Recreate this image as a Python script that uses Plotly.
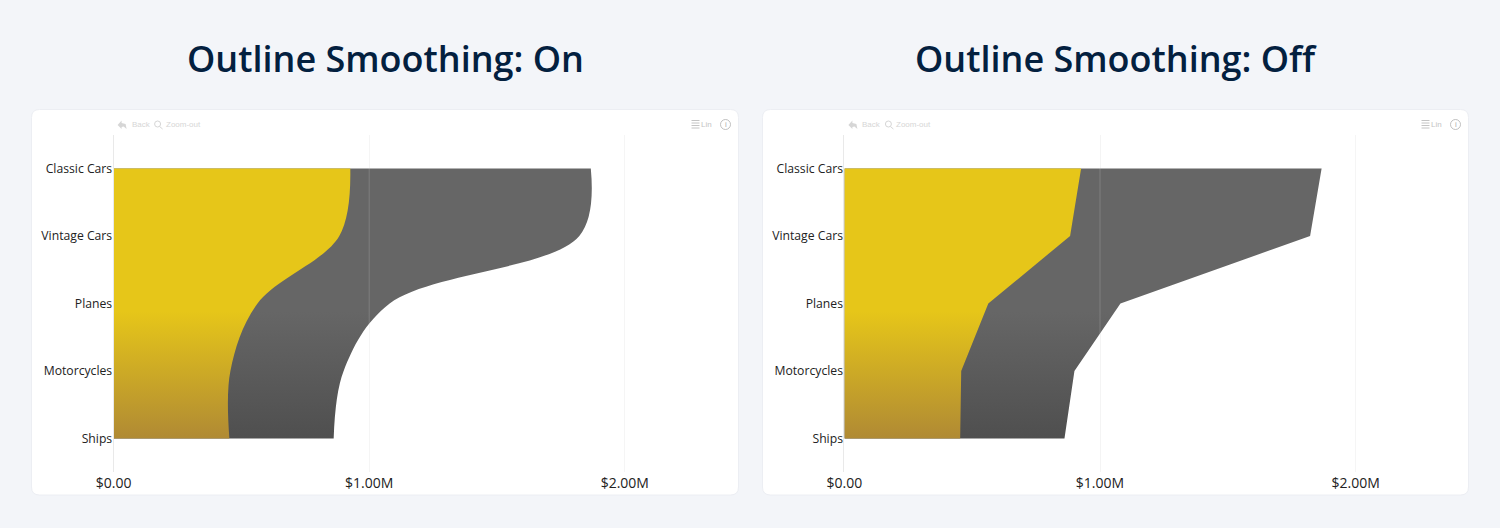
import plotly.graph_objects as go

W, H = 1500, 528

categories = ['Classic Cars', 'Vintage Cars', 'Planes', 'Motorcycles', 'Ships']
yellow_values = [926000, 883000, 563000, 457000, 453000]
grey_values = [941000, 939000, 517000, 443000, 408000]
x_ticks = [0, 1000000, 2000000]
x_tick_labels = ['$0.00', '$1.00M', '$2.00M']
titles = ['Outline Smoothing: On', 'Outline Smoothing: Off']
line_shapes = ['spline', 'linear']
total_values = [a + b for a, b in zip(yellow_values, grey_values)]

FONT = 'Open Sans'
TOOL_COLOR = '#d6d6d6'

# gradient only kicks in below Planes (0 is the bottom of the fill)
yellow_scale = [[0, '#b08a34'], [0.47, '#e6c619'], [1, '#e6c619']]
grey_scale = [[0, '#4f4f4f'], [0.47, '#666666'], [1, '#666666']]


def px(x):
    return x / W


def py(y):
    return 1 - y / H


def rounded_rect(x0, y0, x1, y1, r):
    return (f'M{px(x0 + r)},{py(y0)} L{px(x1 - r)},{py(y0)} Q{px(x1)},{py(y0)} {px(x1)},{py(y0 + r)} '
            f'L{px(x1)},{py(y1 - r)} Q{px(x1)},{py(y1)} {px(x1 - r)},{py(y1)} '
            f'L{px(x0 + r)},{py(y1)} Q{px(x0)},{py(y1)} {px(x0)},{py(y1 - r)} '
            f'L{px(x0)},{py(y0 + r)} Q{px(x0)},{py(y0)} {px(x0 + r)},{py(y0)} Z')


def icon_path(points):
    return 'M' + ' L'.join(f'{px(x)},{py(y)}' for x, y in points)


fig = go.Figure()
shapes = []
annotations = []

panels = [
    dict(card=(31.5, 109.5, 738.5, 495), plot=(113.6, 738.6), suffix='', xaxis='x', yaxis='y'),
    dict(card=(762.5, 109.5, 1468.5, 495), plot=(844.4, 1468.4), suffix='2', xaxis='x2', yaxis='y2'),
]

for i, p in enumerate(panels):
    x0, y0, x1, y1 = p['card']
    shapes.append(dict(type='path', xref='paper', yref='paper', layer='below',
                       path=rounded_rect(x0, y0, x1, y1, 8), fillcolor='white',
                       line=dict(color='#eceef3', width=1)))

    # grey total first, yellow painted on top of it
    fig.add_trace(go.Scatter(
        x=total_values, y=categories, mode='lines', xaxis=p['xaxis'], yaxis=p['yaxis'],
        line=dict(shape=line_shapes[i], width=0), fill='tozerox', showlegend=False,
        fillgradient=dict(type='vertical', colorscale=grey_scale)))
    fig.add_trace(go.Scatter(
        x=yellow_values, y=categories, mode='lines', xaxis=p['xaxis'], yaxis=p['yaxis'],
        line=dict(shape=line_shapes[i], width=0), fill='tozerox', showlegend=False,
        fillgradient=dict(type='vertical', colorscale=yellow_scale)))

    # the grid shows through the fills on the original
    for t in x_ticks[1:]:
        shapes.append(dict(type='line', xref=p['xaxis'], yref=p['yaxis'] + ' domain', x0=t, x1=t, y0=0, y1=1,
                           layer='above', line=dict(color='rgba(255,255,255,0.16)', width=1)))

    annotations.append(dict(text=titles[i], xref='paper', yref='paper', x=px((x0 + x1) / 2), y=py(59),
                            showarrow=False, xanchor='center', yanchor='middle',
                            font=dict(family=FONT, size=36, weight=600, color='#03203f')))

    # toolbar
    left = p['plot'][0]
    right = x1
    for text, tx in [('Back', left + 16), ('Zoom-out', left + 50)]:
        annotations.append(dict(text=text, xref='paper', yref='paper', x=px(tx), y=py(124.5), showarrow=False,
                                xanchor='left', yanchor='middle', font=dict(family='Liberation Sans', size=8, color=TOOL_COLOR)))
    annotations.append(dict(text='Lin', xref='paper', yref='paper', x=px(right - 25), y=py(124.5), showarrow=False,
                            xanchor='right', yanchor='middle', font=dict(family='Liberation Sans', size=8, color='#c4c4c4')))
    annotations.append(dict(text='i', xref='paper', yref='paper', x=px(right - 13), y=py(124.5), showarrow=False,
                            xanchor='center', yanchor='middle', font=dict(family='Liberation Sans', size=8, color='#b0b0b0')))
    shapes.append(dict(type='path', xref='paper', yref='paper',
                       path=icon_path([(left + 4, 125), (left + 8, 120.5), (left + 8, 123), (left + 12, 124), (left + 13, 129),
                                       (left + 10, 126.5), (left + 8, 127), (left + 8, 129)]) + ' Z',
                       fillcolor=TOOL_COLOR, line=dict(width=0)))
    shapes.append(dict(type='circle', xref='paper', yref='paper', x0=px(left + 41), x1=px(left + 47), y0=py(127), y1=py(121),
                       line=dict(color=TOOL_COLOR, width=1)))
    shapes.append(dict(type='line', xref='paper', yref='paper', x0=px(left + 46), x1=px(left + 49), y0=py(126.5), y1=py(129),
                       line=dict(color=TOOL_COLOR, width=1)))
    for ly in [120.5, 123, 125.5, 128]:
        shapes.append(dict(type='line', xref='paper', yref='paper', x0=px(right - 47), x1=px(right - 39), y0=py(ly), y1=py(ly),
                           line=dict(color='#c4c4c4', width=1)))
    shapes.append(dict(type='circle', xref='paper', yref='paper', x0=px(right - 18), x1=px(right - 8), y0=py(129.5), y1=py(119.5),
                       line=dict(color='#b0b0b0', width=0.8)))

    x_max = x_ticks[1] * (p['plot'][1] - p['plot'][0]) / 255.6
    fig.update_layout({
        'xaxis' + p['suffix']: dict(domain=[px(p['plot'][0]), px(p['plot'][1])], range=[0, x_max], tickvals=x_ticks,
                                    ticktext=x_tick_labels, showgrid=True, gridcolor='#f4f4f4', gridwidth=1, zeroline=False,
                                    showline=False, ticks='', anchor=p['yaxis'], ticklabelstandoff=1,
                                    tickfont=dict(family=FONT, size=14, color='#222222')),
        'yaxis' + p['suffix']: dict(domain=[py(472.25), py(134.75)], type='category', categoryorder='array', categoryarray=categories,
                                    range=[4.5, -0.5], showgrid=False, zeroline=False, showline=True, linecolor='#e9e9e9', linewidth=1,
                                    ticks='', anchor=p['xaxis'], ticklabelstandoff=-2, tickfont=dict(family=FONT, size=12.2, color='#222222')),
    })

fig.update_layout(width=W, height=H, margin=dict(l=0, r=0, t=0, b=0, autoexpand=False), autosize=False,
                  paper_bgcolor='#f3f5f9', plot_bgcolor='rgba(0,0,0,0)', shapes=shapes, annotations=annotations,
                  showlegend=False, hovermode='closest', font=dict(family=FONT))

fig.write_html('out.html', post_script="document.body.style.margin='0';document.body.style.overflow='hidden';",
               config=dict(displayModeBar=False))
